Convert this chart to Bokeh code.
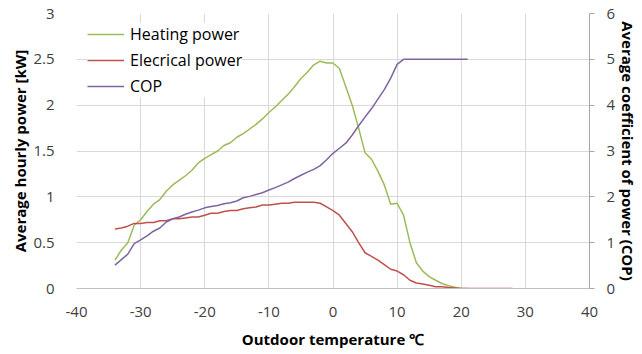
from bokeh.plotting import figure
from bokeh.models import Range1d, LinearAxis, FixedTicker, Legend, LegendItem
from bokeh.embed import file_html
from bokeh.resources import INLINE

# ---- data ----
temperature = list(range(-34, 29))  # outdoor temperature, °C

heating_power = [0.31, 0.42, 0.50, 0.69, 0.75, 0.84, 0.92, 0.97, 1.06, 1.13,
                 1.18, 1.23, 1.29, 1.37, 1.42, 1.46, 1.50, 1.56, 1.59, 1.65,
                 1.69, 1.74, 1.79, 1.85, 1.92, 1.98, 2.05, 2.12, 2.20, 2.29,
                 2.36, 2.44, 2.48, 2.46, 2.46, 2.40, 2.20, 2.00, 1.75, 1.48,
                 1.41, 1.28, 1.13, 0.92, 0.93, 0.80, 0.50, 0.28, 0.19, 0.13,
                 0.09, 0.055, 0.03, 0.015, 0.0, 0.0]

electrical_power = [0.65, 0.66, 0.68, 0.71, 0.71, 0.72, 0.72, 0.74, 0.74, 0.76,
                    0.76, 0.77, 0.78, 0.78, 0.80, 0.82, 0.82, 0.84, 0.85, 0.85,
                    0.87, 0.88, 0.89, 0.91, 0.91, 0.92, 0.93, 0.93, 0.94, 0.94,
                    0.94, 0.94, 0.93, 0.89, 0.85, 0.80, 0.71, 0.62, 0.50, 0.39,
                    0.35, 0.31, 0.26, 0.21, 0.19, 0.15, 0.09, 0.06, 0.05, 0.035,
                    0.02, 0.02, 0.01, 0.005, 0.0, 0.0, 0.0, 0.0, 0.0, 0.0,
                    0.0, 0.0, 0.0]

cop = [0.51, 0.63, 0.75, 0.98, 1.06, 1.15, 1.25, 1.32, 1.45, 1.52,
       1.56, 1.62, 1.67, 1.71, 1.76, 1.79, 1.81, 1.85, 1.87, 1.91,
       1.98, 2.01, 2.05, 2.09, 2.15, 2.20, 2.26, 2.32, 2.40, 2.47,
       2.54, 2.60, 2.68, 2.81, 2.95, 3.06, 3.17, 3.35, 3.55, 3.74,
       3.92, 4.13, 4.34, 4.59, 4.89, 5.0, 5.0, 5.0, 5.0, 5.0,
       5.0, 5.0, 5.0, 5.0, 5.0, 5.0]

x_ticks = [-40, -30, -20, -10, 0, 10, 20, 30, 40]
x_tick_labels = ["-40", "-30", "-20", "-10", "0", "10", "20", "30", "40"]
left_ticks = [0, 0.5, 1, 1.5, 2, 2.5, 3]
left_tick_labels = ["0", "0.5", "1", "1.5", "2", "2.5", "3"]
right_ticks = [0, 1, 2, 3, 4, 5, 6]

series_names = ["Heating power", "Elecrical power", "COP"]
x_title = "Outdoor temperature \u2103"
left_title = "Average hourly power [kW]"
right_title = "Average coefficient of power (COP)"

# ---- styling ----
FONT = "Open Sans"
GREEN = "#9bbb59"
RED = "#c0504d"
PURPLE = "#8064a2"
GRID = "#d9d9d9"
TICK_TEXT = "#404040"

p = figure(width=642, height=354, output_backend="svg", toolbar_location=None,
           x_range=Range1d(-40, 40), y_range=Range1d(0, 3),
           min_border_left=76, min_border_right=53, min_border_top=13,
           min_border_bottom=66)
p.extra_y_ranges = {"cop": Range1d(0, 6)}
p.outline_line_color = None
p.background_fill_color = "white"

# grids
p.xgrid.ticker = FixedTicker(ticks=x_ticks)
p.ygrid.ticker = FixedTicker(ticks=left_ticks)
for g in (p.xgrid, p.ygrid):
    g.grid_line_color = GRID
    g.grid_line_width = 1

# bottom axis
xa = p.xaxis[0]
xa.ticker = FixedTicker(ticks=x_ticks)
xa.major_label_overrides = {t: s for t, s in zip(x_ticks, x_tick_labels)}
xa.axis_line_color = "#bfbfbf"
xa.major_tick_line_color = None
xa.minor_tick_line_color = None
xa.major_tick_out = 0
xa.major_tick_in = 0
xa.major_label_standoff = 18
xa.major_label_text_font = FONT
xa.major_label_text_font_size = "15px"
xa.major_label_text_color = TICK_TEXT
xa.axis_label = x_title
xa.axis_label_text_font = FONT
xa.axis_label_text_font_size = "15px"
xa.axis_label_text_font_style = "bold"
xa.axis_label_text_color = "black"
xa.axis_label_standoff = 9

# left axis
ya = p.yaxis[0]
ya.ticker = FixedTicker(ticks=left_ticks)
ya.major_label_overrides = {t: s for t, s in zip(left_ticks, left_tick_labels)}
ya.axis_line_color = None
ya.major_tick_line_color = None
ya.minor_tick_line_color = None
ya.major_tick_out = 0
ya.major_tick_in = 0
ya.major_label_standoff = 22
ya.major_label_text_font = FONT
ya.major_label_text_font_size = "15px"
ya.major_label_text_color = TICK_TEXT
ya.axis_label = left_title
ya.axis_label_text_font = FONT
ya.axis_label_text_font_size = "15px"
ya.axis_label_text_font_style = "bold"
ya.axis_label_text_color = "black"
ya.axis_label_standoff = 0

# right axis
ra = LinearAxis(y_range_name="cop", ticker=FixedTicker(ticks=right_ticks))
ra.axis_line_color = "#a6a6a6"
ra.major_tick_line_color = "#a6a6a6"
ra.minor_tick_line_color = None
ra.major_tick_out = 5
ra.major_tick_in = 0
ra.major_label_standoff = 12
ra.major_label_text_font = FONT
ra.major_label_text_font_size = "15px"
ra.major_label_text_color = TICK_TEXT
ra.axis_label = right_title
ra.axis_label_text_font = FONT
ra.axis_label_text_font_size = "15px"
ra.axis_label_text_font_style = "bold"
ra.axis_label_text_color = "black"
ra.axis_label_standoff = 0
p.add_layout(ra, "right")

# series
r_heat = p.line(temperature[:len(heating_power)], heating_power,
                line_color=GREEN, line_width=1.5)
r_elec = p.line(temperature[:len(electrical_power)], electrical_power,
                line_color=RED, line_width=1.5)
r_cop = p.line(temperature[:len(cop)], cop, y_range_name="cop",
               line_color=PURPLE, line_width=1.5)

legend = Legend(items=[LegendItem(label=series_names[0], renderers=[r_heat]),
                       LegendItem(label=series_names[1], renderers=[r_elec]),
                       LegendItem(label=series_names[2], renderers=[r_cop])],
                location=(11, 191), margin=0, padding=6, spacing=4,
                glyph_width=37, glyph_height=20, label_height=20,
                label_standoff=6,
                label_text_font=FONT, label_text_font_size="16px",
                label_text_color="black",
                border_line_color=None, background_fill_color="white",
                background_fill_alpha=1.0)
p.add_layout(legend, "center")

open("out.html", "w").write(file_html(p, INLINE))
